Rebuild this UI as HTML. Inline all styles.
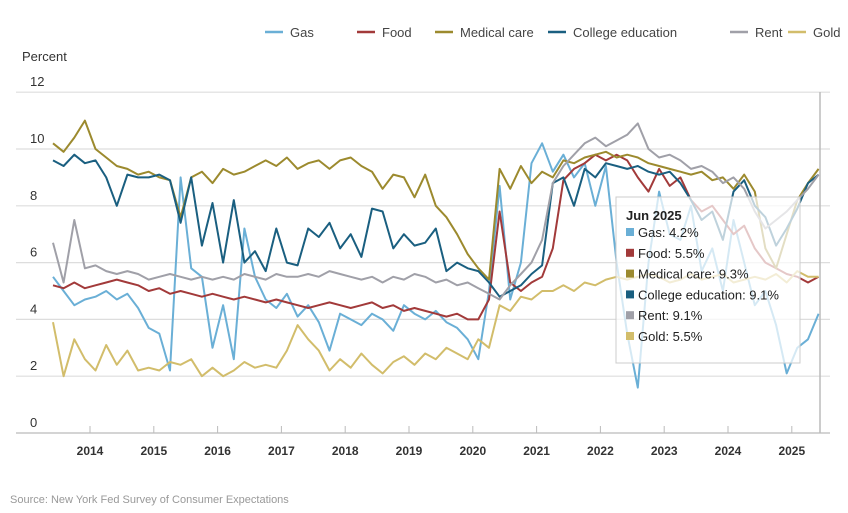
<!DOCTYPE html>
<html><head><meta charset="utf-8"><style>
body{margin:0;background:#fff;font-family:"Liberation Sans",sans-serif}
svg text{font-family:"Liberation Sans",sans-serif}
</style></head><body>
<svg id="c" width="848" height="508" xmlns="http://www.w3.org/2000/svg">
<g id="legend"></g>
<text x="22" y="61" font-size="13" fill="#333">Percent</text>
<g id="grid"></g><g id="series"></g>
<line x1="820" y1="92" x2="820" y2="433" stroke="#bbb" stroke-width="1.5"/>
<g>
<rect x="616" y="197" width="184" height="166" fill="#fff" fill-opacity="0.72" stroke="#ccc"/>
<text x="626" y="220" font-size="13" font-weight="bold" fill="#222">Jun 2025</text>
<g id="tip"></g>
</g>
<text x="10" y="503" font-size="11" fill="#999">Source: New York Fed Survey of Consumer Expectations</text>
</svg>
<script>
const names=["Gas","Food","Medical care","College education","Rent","Gold"];
const colors=["#6aafd6","#a23a3a","#9c8a2e","#1a5f80","#a0a0a8","#d2bd6b"];
const tipValues=["4.2%","5.5%","9.3%","9.1%","9.1%","5.5%"];
const yTicks=[0,2,4,6,8,10,12];
const xYears=[2014,2015,2016,2017,2018,2019,2020,2021,2022,2023,2024,2025];
const startYear=2013.42, stepYear=2/12;
const gas=[5.5,5.0,4.5,4.7,4.8,5.0,4.7,4.9,4.4,3.7,3.5,2.2,9.0,5.8,5.5,3.0,4.5,2.6,7.2,5.5,4.7,4.4,4.9,4.1,4.5,3.9,2.9,4.2,4.0,3.8,4.2,4.0,3.6,4.5,4.2,4.0,4.3,3.9,3.7,3.3,2.6,5.0,8.7,4.7,6.0,9.5,10.2,9.2,9.8,9.0,9.5,8.0,9.4,6.0,3.5,1.6,6.0,8.5,7.0,6.8,8.0,5.7,6.5,5.0,7.5,6.0,4.5,5.0,3.8,2.1,3.0,3.3,4.2];
const food=[5.2,5.1,5.3,5.1,5.2,5.3,5.4,5.3,5.2,5.0,5.1,4.9,5.0,4.9,4.8,4.9,4.8,4.7,4.8,4.7,4.6,4.7,4.6,4.5,4.4,4.5,4.6,4.5,4.4,4.5,4.6,4.4,4.5,4.3,4.4,4.3,4.2,4.1,4.2,4.0,4.0,4.7,7.8,5.3,5.0,5.3,5.5,6.5,8.9,9.3,9.5,9.8,9.6,9.8,9.6,9.0,8.5,9.3,8.7,9.0,8.2,7.8,8.0,7.5,7.0,7.3,6.5,6.0,5.8,5.6,5.5,5.3,5.5];
const medical=[10.2,9.9,10.4,11.0,10.0,9.7,9.4,9.3,9.1,9.2,9.0,8.9,7.6,9.0,9.2,8.8,9.3,9.1,9.2,9.4,9.6,9.4,9.7,9.3,9.5,9.6,9.3,9.6,9.7,9.4,9.2,8.6,9.1,9.0,8.3,9.1,8.0,7.6,7.0,6.3,5.8,5.4,9.3,8.6,9.4,8.8,9.2,9.0,9.6,9.5,9.7,9.8,9.9,9.7,9.8,9.7,9.5,9.4,9.3,9.2,9.1,9.2,8.9,9.0,8.6,9.1,8.5,6.5,5.8,7.0,8.2,8.8,9.3];
const college=[9.6,9.4,9.8,9.5,9.6,9.0,8.0,9.1,9.0,9.0,9.1,8.9,7.4,9.0,6.6,8.1,6.0,8.2,6.0,6.4,5.7,7.2,6.0,5.9,7.2,6.9,7.4,6.5,7.0,6.2,7.9,7.8,6.5,7.0,6.6,6.7,7.2,5.7,6.0,5.8,5.7,5.3,4.8,5.0,5.2,5.6,5.9,8.8,9.0,8.0,9.3,9.0,9.5,9.4,9.3,9.4,9.2,9.1,9.2,8.8,8.2,7.5,7.8,6.8,8.5,8.9,8.0,7.6,6.6,7.2,7.9,8.8,9.1];
const rent=[6.7,5.3,7.5,5.8,5.9,5.7,5.6,5.7,5.6,5.4,5.5,5.6,5.5,5.4,5.5,5.4,5.5,5.4,5.6,5.5,5.4,5.6,5.5,5.5,5.6,5.5,5.7,5.6,5.5,5.4,5.5,5.3,5.5,5.4,5.6,5.5,5.3,5.4,5.2,5.3,5.1,4.9,4.7,5.2,5.6,6.0,6.8,8.8,9.4,9.8,10.2,10.4,10.1,10.3,10.5,10.9,10.0,9.7,9.8,9.6,9.3,9.4,9.2,8.8,9.0,8.6,7.8,7.2,7.5,7.8,8.2,8.6,9.1];
const gold=[3.9,2.0,3.3,2.6,2.2,3.1,2.4,2.9,2.2,2.3,2.2,2.5,2.4,2.6,2.0,2.3,2.0,2.2,2.5,2.3,2.4,2.3,2.9,3.8,3.3,2.9,2.2,2.6,2.3,2.8,2.4,2.1,2.5,2.7,2.4,2.8,2.6,3.0,2.8,2.6,3.3,3.0,4.5,4.3,4.8,4.7,5.0,5.0,5.2,5.0,5.3,5.2,5.4,5.5,5.4,5.5,5.6,5.5,5.3,5.4,5.6,5.4,5.5,5.6,5.3,5.4,5.5,5.4,5.6,5.3,5.7,5.5,5.5];
const allSeries=[gas,food,medical,college,rent,gold];
const keys=["gas","food","medical-care","college-education","rent","gold"];

const NS="http://www.w3.org/2000/svg";
const X=t=>90+(t-2014)*63.8;
const Y=v=>433-v*28.4;
function mk(tag,attrs,parent){const e=document.createElementNS(NS,tag);for(const k in attrs)e.setAttribute(k,attrs[k]);parent.appendChild(e);return e;}
const grid=document.getElementById('grid');
yTicks.forEach(v=>{
  const l=mk('line',{x1:16,x2:830,y1:Y(v),y2:Y(v),stroke:v===0?'#bbb':'#ddd','stroke-width':1.2},grid);
  
  
  const t=mk('text',{x:30,y:Y(v)-6,'font-size':13,fill:'#333'},grid);t.textContent=v;
  
  
});
xYears.forEach(yr=>{
  const l=mk('line',{x1:X(yr),x2:X(yr),y1:426,y2:433,stroke:'#bbb'},grid);
  
  
  const t=mk('text',{x:X(yr),y:455,'font-size':12,'font-weight':'bold',fill:'#333','text-anchor':'middle'},grid);t.textContent=yr;
  
  
});
const sg=document.getElementById('series');
allSeries.forEach((arr,si)=>{
  const d=arr.map((v,i)=>(i?'L':'M')+X(startYear+i*stepYear).toFixed(1)+','+Y(v).toFixed(1)).join('');
  const p=mk('path',{d:d,fill:'none',stroke:colors[si],'stroke-width':2,'stroke-linejoin':'round'},sg);
  
  
});
const lg=document.getElementById('legend');
const lx=[265,357,435,548,730,788];
names.forEach((n,i)=>{
  const l=mk('line',{x1:lx[i],x2:lx[i]+18,y1:32,y2:32,stroke:colors[i],'stroke-width':2.5},lg);
  
  
  const t=mk('text',{x:lx[i]+25,y:37,'font-size':13,fill:'#444'},lg);t.textContent=n;
  
  
});
const tip=document.getElementById('tip');
names.forEach((n,i)=>{
  const y=237+i*20.8;
  const r=mk('rect',{x:626,y:y-9,width:8,height:8,fill:colors[i]},tip);
  
  
  const t=mk('text',{x:638,y:y,'font-size':13,fill:'#222'},tip);t.textContent=n+': '+tipValues[i];
  
  
});
</script>
</body></html>
